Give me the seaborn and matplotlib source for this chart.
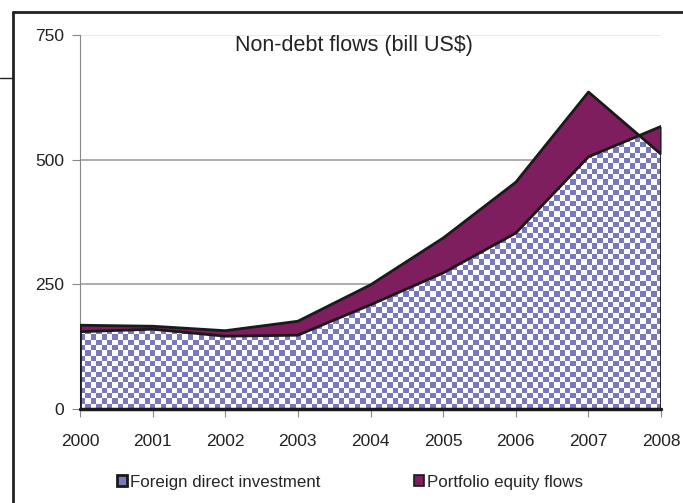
import numpy as np
import pandas as pd
import seaborn as sns
import matplotlib.pyplot as plt
from matplotlib.patches import Patch, Polygon
from matplotlib.lines import Line2D

# values (bill US$)
years = [2000, 2001, 2002, 2003, 2004, 2005, 2006, 2007, 2008]
fdi = [155, 160, 146, 148, 209, 273, 353, 506, 567]
portfolio = [13, 6, 11, 28, 40, 70, 102, 130, -56]

sns.set_style("white")
plt.rcParams['font.family'] = ['Liberation Sans', 'DejaVu Sans']

df = pd.DataFrame({'year': years, 'fdi': fdi, 'portfolio': portfolio})
df['total'] = df['fdi'] + df['portfolio']

fig = plt.figure(figsize=(6.83, 5.03), dpi=100)
ax = fig.add_axes([0.117, 0.187, 0.851, 0.743])

blue = '#7878be'
purple = '#7e1e5e'

# checkered fill for FDI, clipped to the area polygon
nx, ny = 108, 70
cb = (np.add.outer(np.arange(ny), np.arange(nx)) % 2).astype(float)
cmap = plt.matplotlib.colors.ListedColormap(['white', blue])
img = ax.imshow(cb, extent=[2000, 2008, 0, 750], cmap=cmap, aspect='auto',
                interpolation='nearest', origin='lower', zorder=2)
verts = [(2000, 0)] + list(zip(df['year'], df['fdi'])) + [(2008, 0)]
poly = Polygon(verts, closed=True, facecolor='none', edgecolor='none', transform=ax.transData)
ax.add_patch(poly)
img.set_clip_path(poly)

ax.fill_between(df['year'], df['fdi'], df['total'], color=purple, zorder=3, linewidth=0)

sns.lineplot(data=df, x='year', y='fdi', color='#1a1a1a', lw=2, ax=ax, zorder=4)
sns.lineplot(data=df, x='year', y='total', color='#1a1a1a', lw=2, ax=ax, zorder=4)
ax.plot([2000, 2000], [0, df['total'].iloc[0]], color='#1a1a1a', lw=2, zorder=4)
ax.plot([2008, 2008], [0, max(df['fdi'].iloc[-1], df['total'].iloc[-1])], color='#1a1a1a', lw=2, zorder=4)
ax.plot([2000, 2008], [0, 0], color='#1a1a1a', lw=2.5, zorder=4, clip_on=False)

ax.set_xlim(2000, 2008)
ax.set_ylim(0, 750)
ax.set_xticks(years)
ax.set_yticks([0, 250, 500, 750])
ax.set_xlabel('')
ax.set_ylabel('')
for g in [250, 500]:
    ax.axhline(g, color='#a0a0a0', lw=1.2, zorder=1)
ax.axhline(750, color='#e6e6e6', lw=1.2, zorder=1)
for s in ['top', 'right']:
    ax.spines[s].set_visible(False)
ax.spines['left'].set_color('#888888')
ax.spines['bottom'].set_color('#888888')
ax.tick_params(axis='both', direction='out', length=6, color='#888888',
               labelsize=12.5, labelcolor='#222222', bottom=True, left=True)
ax.tick_params(axis='x', pad=12)
ax.tick_params(axis='y', pad=5.5)

fig.text(354 / 683, 1 - 45 / 503, 'Non-debt flows (bill US$)', ha='center', va='center',
         fontsize=15.5, color='#222222')

handles = [Patch(facecolor=blue, edgecolor='#1a1a1a', lw=2, label='Foreign direct investment'),
           Patch(facecolor=purple, edgecolor='#1a1a1a', lw=1.2, label='Portfolio equity flows')]
fig.legend(handles=handles, loc='center', bbox_to_anchor=(350 / 683, 1 - 482 / 503), ncol=2,
           frameon=False, fontsize=12.2, handlelength=0.6, handleheight=0.6,
           handletextpad=0.2, columnspacing=5.5)

# outer frame
fig.add_artist(Line2D([13 / 683, 13 / 683], [0, 1 - 12 / 503], color='#222222', lw=2))
fig.add_artist(Line2D([13 / 683, 1], [1 - 12 / 503, 1 - 12 / 503], color='#222222', lw=2))
fig.add_artist(Line2D([0, 13 / 683], [1 - 78 / 503, 1 - 78 / 503], color='#222222', lw=1))

fig.savefig('out.png', dpi=100)
